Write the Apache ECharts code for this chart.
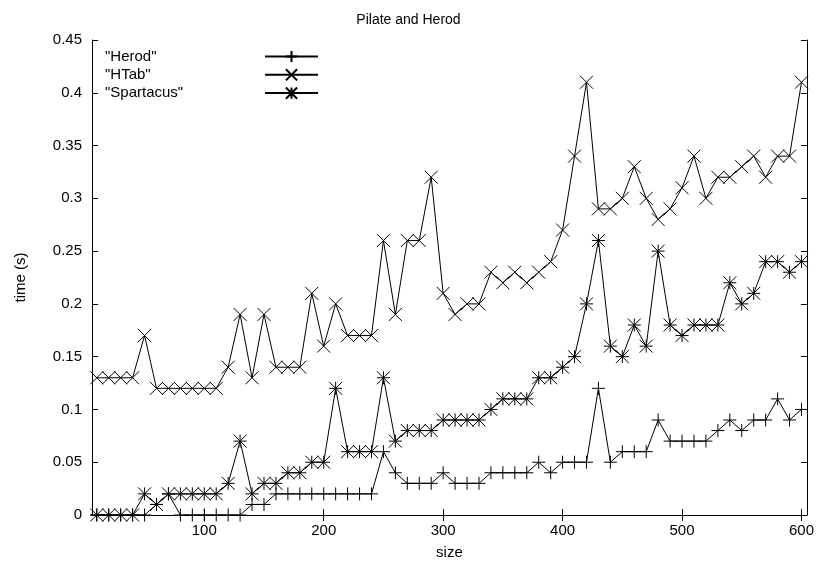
<!DOCTYPE html>
<html lang="en">
<head>
    <meta charset="UTF-8">
    <title>Pilate and Herod</title>
    <script type="text/javascript" src="https://cdn.jsdelivr.net/npm/echarts@6/dist/echarts.min.js"></script>
</head>
<body style="height: 565px; margin: 0; width: 817px; background: #fff">
<div id="container" style="height: 565px; width: 817px"></div>
<script type="text/javascript">
    var sizes = [10, 20, 30, 40, 50, 60, 70, 80, 90, 100,
        110, 120, 130, 140, 150, 160, 170, 180, 190, 200,
        210, 220, 230, 240, 250, 260, 270, 280, 290, 300,
        310, 320, 330, 340, 350, 360, 370, 380, 390, 400,
        410, 420, 430, 440, 450, 460, 470, 480, 490, 500,
        510, 520, 530, 540, 550, 560, 570, 580, 590, 600];
    var herod = [0, 0, 0, 0, 0, 0.01, 0.02, 0, 0, 0,
        0, 0, 0, 0.01, 0.01, 0.02, 0.02, 0.02, 0.02, 0.02,
        0.02, 0.02, 0.02, 0.02, 0.06, 0.04, 0.03, 0.03, 0.03, 0.04,
        0.03, 0.03, 0.03, 0.04, 0.04, 0.04, 0.04, 0.05, 0.04, 0.05,
        0.05, 0.05, 0.12, 0.05, 0.06, 0.06, 0.06, 0.09, 0.07, 0.07,
        0.07, 0.07, 0.08, 0.09, 0.08, 0.09, 0.09, 0.11, 0.09, 0.10];
    var htab = [0.13, 0.13, 0.13, 0.13, 0.17, 0.12, 0.12, 0.12, 0.12, 0.12,
        0.12, 0.14, 0.19, 0.13, 0.19, 0.14, 0.14, 0.14, 0.21, 0.16,
        0.20, 0.17, 0.17, 0.17, 0.26, 0.19, 0.26, 0.26, 0.32, 0.21,
        0.19, 0.20, 0.20, 0.23, 0.22, 0.23, 0.22, 0.23, 0.24, 0.27,
        0.34, 0.41, 0.29, 0.29, 0.30, 0.33, 0.30, 0.28, 0.29, 0.31,
        0.34, 0.30, 0.32, 0.32, 0.33, 0.34, 0.32, 0.34, 0.34, 0.41];
    var spartacus = [0, 0, 0, 0, 0.02, 0.01, 0.02, 0.02, 0.02, 0.02,
        0.02, 0.03, 0.07, 0.02, 0.03, 0.03, 0.04, 0.04, 0.05, 0.05,
        0.12, 0.06, 0.06, 0.06, 0.13, 0.07, 0.08, 0.08, 0.08, 0.09,
        0.09, 0.09, 0.09, 0.10, 0.11, 0.11, 0.11, 0.13, 0.13, 0.14,
        0.15, 0.20, 0.26, 0.16, 0.15, 0.18, 0.16, 0.25, 0.18, 0.17,
        0.18, 0.18, 0.18, 0.22, 0.20, 0.21, 0.24, 0.24, 0.23, 0.24];
    var xTicks = [100, 200, 300, 400, 500, 600];

    // gnuplot point types: + , x , *
    var plusMark = 'path://M0,5L10,5M5,0L5,10';
    var crossMark = 'path://M0,0L10,10M0,10L10,0';
    var starMark = 'path://M0,5L10,5M5,0L5,10M0,0L10,10M0,10L10,0';

    function pairs(vals) {
        var out = [];
        for (var i = 0; i < sizes.length; i++) out.push([sizes[i], vals[i]]);
        return out;
    }

    function mkSeries(name, vals, mark) {
        return {
            name: name,
            type: 'line',
            data: pairs(vals),
            symbol: mark,
            symbolSize: 13,
            showAllSymbol: true,
            clip: false,
            animation: false,
            lineStyle: {color: '#000', width: 1},
            itemStyle: {color: 'none', borderColor: '#000', borderWidth: 1},
            emphasis: {disabled: true}
        };
    }

    var font = 'Liberation Sans, Arial, sans-serif';
    var fs = 15;
    var xmin = 6, xmax = 604.5;

    var dom = document.getElementById("container");
    var myChart = echarts.init(dom);

    var option = {
        backgroundColor: '#fff',
        animation: false,
        textStyle: {fontFamily: font, color: '#000'},
        title: {
            text: 'Pilate and Herod',
            left: 'center',
            top: 8,
            textStyle: {fontFamily: font, fontSize: 14, fontWeight: 'normal', color: '#000'}
        },
        legend: {
            orient: 'vertical',
            left: 100,
            top: 43,
            align: 'right',
            itemWidth: 53,
            itemHeight: 14,
            itemGap: 1.3,
            selectedMode: false,
            textStyle: {
                fontFamily: font, fontSize: fs, color: '#000', lineHeight: 17,
                rich: {a: {width: 155, align: 'left', fontFamily: font, fontSize: fs, lineHeight: 17, color: '#000'}}
            },
            formatter: function (n) { return '{a|"' + n + '"}'; },
            data: ['Herod', 'HTab', 'Spartacus']
        },
        grid: {left: 92, right: 10, top: 40, bottom: 46},
        xAxis: [{
            type: 'value',
            min: xmin, max: xmax,
            name: 'size',
            nameLocation: 'middle',
            nameGap: 30,
            nameTextStyle: {fontFamily: font, fontSize: fs, color: '#000'},
            axisLine: {lineStyle: {color: '#000', width: 1}},
            axisTick: {inside: true, length: 6, customValues: xTicks, lineStyle: {color: '#000'}},
            axisLabel: {customValues: xTicks, fontFamily: font, fontSize: fs, color: '#000', margin: 8},
            splitLine: {show: false}
        }, {
            type: 'value',
            position: 'top',
            min: xmin, max: xmax,
            axisLine: {lineStyle: {color: '#000', width: 1}},
            axisTick: {inside: true, length: 6, customValues: xTicks, lineStyle: {color: '#000'}},
            axisLabel: {show: false},
            splitLine: {show: false}
        }],
        yAxis: [{
            type: 'value',
            min: 0, max: 0.45, interval: 0.05,
            name: 'time (s)',
            nameLocation: 'middle',
            nameRotate: 90,
            nameGap: 64,
            nameTextStyle: {fontFamily: font, fontSize: fs, color: '#000'},
            axisLine: {show: true, lineStyle: {color: '#000', width: 1}},
            axisTick: {show: true, inside: true, length: 6, lineStyle: {color: '#000'}},
            axisLabel: {fontFamily: font, fontSize: fs, color: '#000', margin: 10},
            splitLine: {show: false}
        }, {
            type: 'value',
            position: 'right',
            min: 0, max: 0.45, interval: 0.05,
            axisLine: {show: true, lineStyle: {color: '#000', width: 1}},
            axisTick: {show: true, inside: true, length: 6, lineStyle: {color: '#000'}},
            axisLabel: {show: false},
            splitLine: {show: false}
        }],
        series: [
            mkSeries('Herod', herod, plusMark),
            mkSeries('HTab', htab, crossMark),
            mkSeries('Spartacus', spartacus, starMark)
        ]
    };
    myChart.setOption(option, true);
</script>
</body>
</html>
